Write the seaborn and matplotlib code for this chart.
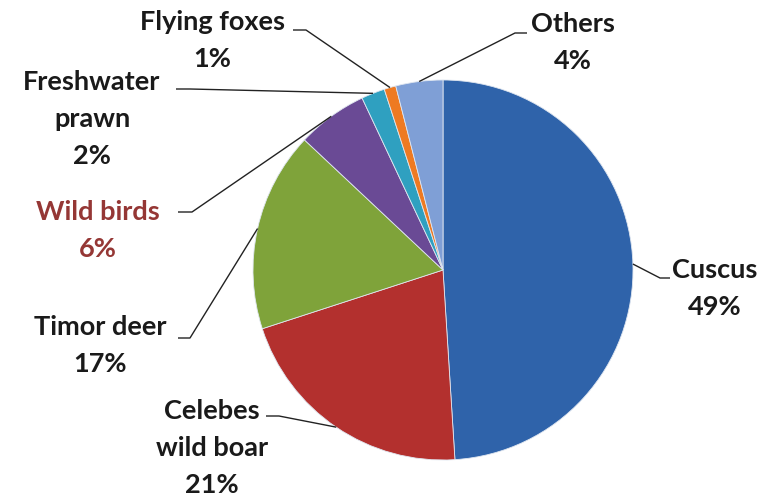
import numpy as np
import matplotlib
matplotlib.use("Agg")
import matplotlib.pyplot as plt
import seaborn as sns

# ---- data ----
categories = ["Cuscus", "Celebes wild boar", "Timor deer", "Wild birds",
              "Freshwater prawn", "Flying foxes", "Others"]
values = [49, 21, 17, 6, 2, 1, 4]
label_lines = [["Cuscus"], ["Celebes", "wild boar"], ["Timor deer"], ["Wild birds"],
               ["Freshwater", "prawn"], ["Flying foxes"], ["Others"]]
colors = ["#2F63AA", "#B3302E", "#7FA33A", "#6A4A95", "#2FA0C0", "#EE7A22", "#7F9FD6"]
label_colors = ["#1a1a1a", "#1a1a1a", "#1a1a1a", "#953735", "#1a1a1a", "#1a1a1a", "#1a1a1a"]

# ---- layout (pixel coords, top-left origin) ----
W, H = 770, 499
# text center x, first baseline y
text_pos = [(715, 278), (212, 419), (100, 335), (98, 220), (92, 90), (212, 30), (573, 32)]
# leader polyline points after the wedge edge point (elbow, tick end)
leader_pts = [
    [(660, 278), (670, 278)],
    [(279, 416), (266, 416)],
    [(190, 338), (178, 338)],
    [(192, 212), (178, 212)],
    [(190, 89), (176, 89)],
    [(306, 30), (293, 30)],
    [(515, 33), (527, 33)],
]
line_step = 37
center_px = (443, 270)
radius_px = 190


def P(x, y):
    return x, H - y


sns.set_theme(style="white")
plt.rcParams["font.family"] = ["Lato", "DejaVu Sans"]

fig = plt.figure(figsize=(W / 100, H / 100), dpi=100)
ax = fig.add_axes([0, 0, 1, 1])

wedges, _ = ax.pie(values, colors=colors, startangle=90, counterclock=False,
                   center=P(*center_px), radius=radius_px,
                   wedgeprops=dict(edgecolor="#dfe6f0", linewidth=0.6))
ax.set_xlim(0, W)
ax.set_ylim(0, H)
ax.set_aspect("equal")
ax.axis("off")

for i, w in enumerate(wedges):
    mid = np.deg2rad((w.theta1 + w.theta2) / 2)
    cx, cy = w.center
    ex, ey = cx + w.r * np.cos(mid), cy + w.r * np.sin(mid)
    pts = [(ex, ey)] + [P(*p) for p in leader_pts[i]]
    xs, ys = zip(*pts)
    ax.plot(xs, ys, color="#222222", lw=1.0, solid_capstyle="butt")

    tx, ty = text_pos[i]
    lines = label_lines[i] + [f"{values[i]}%"]
    for k, t in enumerate(lines):
        ax.text(*P(tx, ty + k * line_step), t, ha="center", va="baseline",
                fontsize=19.5, fontweight="bold", color=label_colors[i])

fig.savefig("out.png", dpi=100)
